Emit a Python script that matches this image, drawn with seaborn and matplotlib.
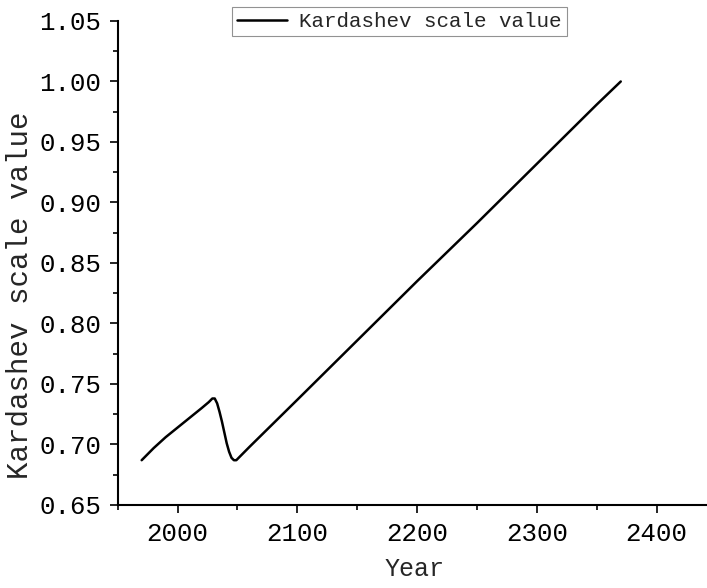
import pandas as pd
import matplotlib.pyplot as plt
import matplotlib.ticker as mticker
import seaborn as sns

# values
years = [1970, 1980, 1990, 2000, 2010, 2020, 2026, 2029, 2031, 2033, 2035,
         2037, 2039, 2041, 2043, 2045, 2047, 2049, 2052, 2060, 2100, 2150,
         2200, 2250, 2300, 2350, 2370]
kardashev = [0.687, 0.697, 0.706, 0.714, 0.722, 0.730, 0.735, 0.738, 0.738,
             0.734, 0.727, 0.719, 0.710, 0.701, 0.694, 0.689, 0.687, 0.687,
             0.690, 0.698, 0.737, 0.786, 0.835, 0.883, 0.932, 0.981, 1.000]

label = "Kardashev scale value"
font = "Liberation Mono"

df = pd.DataFrame({"Year": years, label: kardashev})

sns.set_style("ticks")
plt.rcParams['font.family'] = [font, 'DejaVu Sans']

fig = plt.figure(figsize=(7.07, 5.88), dpi=100)
ax = fig.add_axes([0.1665, 0.1412, 0.8335, 0.8231])

sns.lineplot(data=df, x="Year", y=label, color="black", linewidth=1.8,
             label=label, ax=ax)

ax.set_xlim(1950, 2442)
ax.set_ylim(0.65, 1.05)
ax.xaxis.set_major_locator(mticker.MultipleLocator(100))
ax.xaxis.set_minor_locator(mticker.MultipleLocator(50))
ax.yaxis.set_major_locator(mticker.MultipleLocator(0.05))
ax.yaxis.set_minor_locator(mticker.MultipleLocator(0.025))
ax.yaxis.set_major_formatter(mticker.FormatStrFormatter('%.2f'))

sns.despine(ax=ax)
for s in ["left", "bottom"]:
    ax.spines[s].set_linewidth(1.5)
    ax.spines[s].set_color("black")

ax.tick_params(which="major", direction="out", length=6, width=1.2,
               labelsize=18.5, pad=6, colors="black")
ax.tick_params(which="minor", direction="out", length=3.5, width=1.2,
               colors="black")

ax.set_xlabel("Year", fontsize=18)
ax.xaxis.set_label_coords(0.504, -0.108)
ax.set_ylabel(label, fontsize=21)
ax.yaxis.set_label_coords(-0.142, 0.434)

leg = ax.legend(loc="upper center", bbox_to_anchor=(0.565, 0.988),
                bbox_transform=fig.transFigure, frameon=True, fancybox=False,
                fontsize=15, handlelength=2.4, borderpad=0.25,
                handletextpad=0.6, borderaxespad=0)
leg.get_frame().set_edgecolor("#777777")
leg.get_frame().set_linewidth(0.8)

fig.savefig("out.png", dpi=100)
